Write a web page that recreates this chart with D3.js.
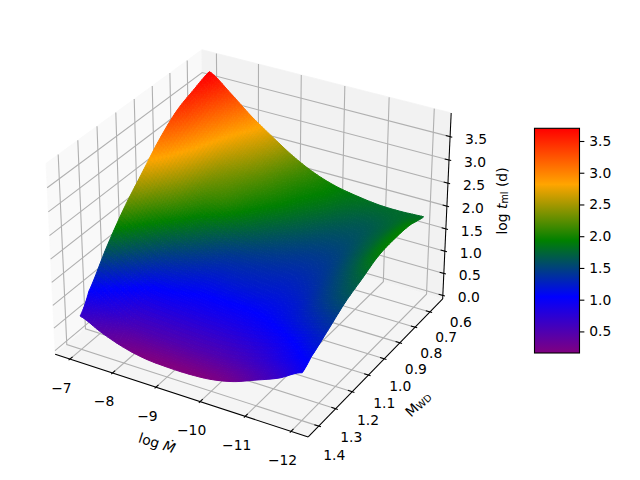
<!DOCTYPE html>
<html>
<head>
<meta charset="utf-8">
<script src="https://cdn.jsdelivr.net/npm/d3@7"></script>
<style>
  body { margin: 0; background: #fff; }
  text { font-family: "DejaVu Sans"; font-size: 13.89px; fill: #000; }
</style>
</head>
<body>
<div id="plot"></div>
<script>
const w = 640
const h = 480

// Values
const logMdot = [-7, -7.5, -8, -8.5, -9, -9.5, -10, -10.5, -11, -11.5, -12]
const mWd = [0.556, 0.65, 0.75, 0.85, 0.95, 1.05, 1.15, 1.25, 1.30]
// one row per mWd, one column per logMdot
const logTml = [
  [3.72, 3.37, 2.98, 2.65, 2.34, 2.10, 1.94, 1.85, 1.79, 1.78, 1.80],
  [3.58, 3.18, 2.78, 2.48, 2.20, 2.00, 1.87, 1.73, 1.66, 1.74, 1.91],
  [3.40, 2.95, 2.52, 2.26, 2.05, 1.87, 1.70, 1.58, 1.57, 1.72, 1.93],
  [3.07, 2.66, 2.26, 2.07, 1.83, 1.63, 1.50, 1.43, 1.47, 1.66, 1.89],
  [2.64, 2.29, 1.96, 1.68, 1.47, 1.38, 1.33, 1.30, 1.37, 1.55, 1.73],
  [2.20, 1.85, 1.52, 1.32, 1.20, 1.19, 1.18, 1.17, 1.24, 1.42, 1.57],
  [1.66, 1.35, 1.06, 0.98, 0.92, 0.91, 0.92, 0.98, 1.08, 1.20, 1.33],
  [1.03, 0.78, 0.54, 0.50, 0.48, 0.48, 0.50, 0.58, 0.72, 0.92, 1.10],
  [0.66, 0.44, 0.27, 0.17, 0.14, 0.14, 0.18, 0.29, 0.48, 0.68, 0.95]
]
const xTicks = [-7, -8, -9, -10, -11, -12]
const yTicks = [0.6, 0.7, 0.8, 0.9, 1.0, 1.1, 1.2, 1.3, 1.4]
const zTicks = [0, 0.5, 1, 1.5, 2, 2.5, 3, 3.5]
const cbTicks = [0.5, 1, 1.5, 2, 2.5, 3, 3.5]
const cbRange = [0.16, 3.7]
const cmapColors = ["#800080", "#0000ff", "#008000", "#ffa500", "#ff0000"]

const svg = d3.select("#plot").append("svg")
  .attr("width", w)
  .attr("height", h)

// --- 3d projection, same camera as a default mplot3d axes ---
const boxNorm = 1.8294640721620434 * 25 / 24 / Math.hypot(4, 4, 3)
const hx = 2 * boxNorm
const hy = 2 * boxNorm
const hz = 1.5 * boxNorm
const dist = 10
const az = -60 * Math.PI / 180
const el = 30 * Math.PI / 180

const camW = [Math.cos(el) * Math.cos(az), Math.cos(el) * Math.sin(az), Math.sin(el)]
const camU = [-camW[1] / Math.cos(el), camW[0] / Math.cos(el), 0]
const camV = [
  camW[1] * camU[2] - camW[2] * camU[1],
  camW[2] * camU[0] - camW[0] * camU[2],
  camW[0] * camU[1] - camW[1] * camU[0]
]
const dot = (a, b) => a[0] * b[0] + a[1] * b[1] + a[2] * b[2]

const xWorld = d3.scaleLinear().domain([-6.65, -12.37]).range([-hx, hx])
const yWorld = d3.scaleLinear().domain([0.5135, 1.361]).range([hy, -hy])
const zWorld = d3.scaleLinear().domain([-0.08, 4.0]).range([-hz, hz])

const screenScale = 2435
const cx = 252.5
const cy = 234
const xScreen = d3.scaleLinear().domain([-0.095, 0.09]).range([cx - 0.095 * screenScale, cx + 0.09 * screenScale])
const yScreen = d3.scaleLinear().domain([-0.095, 0.09]).range([cy + 0.095 * screenScale, cy - 0.09 * screenScale])

// box coordinates -> pixels
const project = p => {
  const d = dist - dot(p, camW)
  return [xScreen(dot(p, camU) / d), yScreen(dot(p, camV) / d)]
}
const line = d3.line()
const poly = pts => line(pts.map(project)) + "Z"

// --- Panes ---
const panes = [
  { fill: "#f9f9f9", pts: [[-hx, -hy, -hz], [-hx, hy, -hz], [-hx, hy, hz], [-hx, -hy, hz]] },
  { fill: "#f2f2f2", pts: [[-hx, hy, -hz], [hx, hy, -hz], [hx, hy, hz], [-hx, hy, hz]] },
  { fill: "#f5f5f5", pts: [[-hx, -hy, -hz], [hx, -hy, -hz], [hx, hy, -hz], [-hx, hy, -hz]] }
]
svg.append("g").selectAll("path").data(panes).join("path")
  .attr("d", d => poly(d.pts))
  .attr("fill", d => d.fill)
  .attr("stroke", d => d.fill)
  .attr("stroke-width", 0.8)

// --- Grid ---
const gridG = svg.append("g")
  .attr("fill", "none")
  .attr("stroke", "#b0b0b0")
  .attr("stroke-width", 1.1)
const drawGrid = pts => gridG.append("path").attr("d", line(pts.map(project)))

xTicks.forEach(t => {
  const x = xWorld(t)
  drawGrid([[x, -hy, -hz], [x, hy, -hz], [x, hy, hz]])
})
yTicks.filter(t => t <= yWorld.domain()[1]).forEach(t => {
  const y = yWorld(t)
  drawGrid([[hx, y, -hz], [-hx, y, -hz], [-hx, y, hz]])
})
zTicks.forEach(t => {
  const z = zWorld(t)
  drawGrid([[-hx, -hy, z], [-hx, hy, z], [hx, hy, z]])
})

// --- Axis lines and ticks ---
const axisG = svg.append("g")
  .attr("fill", "none")
  .attr("stroke", "#000")
  .attr("stroke-width", 1.05)
const drawAxis = pts => axisG.append("path").attr("d", line(pts.map(project)))

drawAxis([[-hx, -hy, -hz], [hx, -hy, -hz]])
drawAxis([[hx, -hy, -hz], [hx, hy, -hz]])
drawAxis([[hx, hy, -hz], [hx, hy, hz]])

const tickOut = 2 * hx / 12 * 0.1
const tickIn = 2 * hx / 12 * 0.2

const labelG = svg.append("g").attr("text-anchor", "middle").attr("dominant-baseline", "central")
const tickLabel = (pos, dx, dy, str) => labelG.append("text")
  .attr("x", pos[0] + dx)
  .attr("y", pos[1] + dy)
  .text(str)

xTicks.forEach(t => {
  const x = xWorld(t)
  drawAxis([[x, -hy - tickOut, -hz], [x, -hy + tickIn, -hz]])
  tickLabel(project([x, -hy, -hz]), -8.5, 28.5, "\u2212" + Math.abs(t))
})
yTicks.forEach(t => {
  const y = yWorld(t)
  // the last label sits past the end of the axis, no tick there
  if (t <= yWorld.domain()[1]) drawAxis([[hx + tickOut, y, -hz], [hx - tickIn, y, -hz]])
  tickLabel(project([hx + 0.145, y, -hz - 0.004]), 0, 0, t.toFixed(1))
})
zTicks.forEach(t => {
  const z = zWorld(t)
  drawAxis([[hx + tickOut, hy, z], [hx - tickIn, hy, z]])
  tickLabel(project([hx, hy, z]), 26, 2, t.toFixed(1))
})

// --- Axis titles ---
const title = (x, y, rot) => svg.append("text")
  .attr("transform", `translate(${x},${y}) rotate(${rot})`)
  .attr("text-anchor", "middle")
  .attr("dominant-baseline", "central")

const xTitle = title(157, 443, 18)
xTitle.append("tspan").text("log ")
xTitle.append("tspan").attr("font-style", "italic").text("\u1E40")

const yTitle = title(418, 404, -44)
yTitle.append("tspan").text("M")
yTitle.append("tspan").attr("font-size", "9.7px").attr("dy", 2).text("WD")

const zTitle = title(502, 201, -90)
zTitle.append("tspan").text("log ")
zTitle.append("tspan").attr("font-style", "italic").text("t")
zTitle.append("tspan").attr("font-size", "9.7px").attr("dy", 2).text("ml")
zTitle.append("tspan").attr("dy", -2).text(" (d)")

// --- Colour map ---
const cmapStops = cmapColors.map((c, i) => cbRange[0] + i / (cmapColors.length - 1) * (cbRange[1] - cbRange[0]))
const cmap = d3.scaleLinear().domain(cmapStops).range(cmapColors).clamp(true)

// --- Surface, back row first ---
// Catmull-Rom through the table values, only so the shading between them is smooth
const spline = (arr, i, t) => {
  const p0 = arr[Math.max(i - 1, 0)]
  const p1 = arr[i]
  const p2 = arr[i + 1]
  const p3 = arr[Math.min(i + 2, arr.length - 1)]
  return 0.5 * (2 * p1 + (p2 - p0) * t + (2 * p0 - 5 * p1 + 4 * p2 - p3) * t * t + (3 * p1 - p0 - 3 * p2 + p3) * t * t * t)
}
const surfaceAt = (u, v) => {
  const c = Math.min(Math.floor(u), logMdot.length - 2)
  const r = Math.min(Math.floor(v), mWd.length - 2)
  const column = logTml.map(row => spline(row, c, u - c))
  return [
    xWorld(d3.interpolateNumber(logMdot[c], logMdot[c + 1])(u - c)),
    yWorld(d3.interpolateNumber(mWd[r], mWd[r + 1])(v - r)),
    spline(column, r, v - r)
  ]
}

const split = 10
const quads = []
for (let j = 0; j < (mWd.length - 1) * split; j++) {
  for (let i = 0; i < (logMdot.length - 1) * split; i++) {
    const corners = [
      surfaceAt(i / split, j / split),
      surfaceAt((i + 1) / split, j / split),
      surfaceAt((i + 1) / split, (j + 1) / split),
      surfaceAt(i / split, (j + 1) / split)
    ]
    quads.push({
      value: surfaceAt((i + 0.5) / split, (j + 0.5) / split)[2],
      pts: corners.map(p => [p[0], p[1], zWorld(p[2])])
    })
  }
}

svg.append("g").selectAll("path").data(quads).join("path")
  .attr("d", d => poly(d.pts))
  .attr("fill", d => cmap(d.value))
  .attr("stroke", d => cmap(d.value))
  .attr("stroke-width", 1)
  .attr("stroke-linejoin", "round")

// --- Colorbar ---
const cbX = 534.5
const cbW = 45
const cbY = d3.scaleLinear().domain(cbRange).range([353, 128.3])

const grad = svg.append("defs").append("linearGradient")
  .attr("id", "cb-grad")
  .attr("x1", 0).attr("x2", 0).attr("y1", 1).attr("y2", 0)
grad.selectAll("stop").data(cmapColors).join("stop")
  .attr("offset", (d, i) => i / (cmapColors.length - 1))
  .attr("stop-color", d => d)

svg.append("rect")
  .attr("x", cbX)
  .attr("y", cbY(cbRange[1]))
  .attr("width", cbW)
  .attr("height", cbY(cbRange[0]) - cbY(cbRange[1]))
  .attr("fill", "url(#cb-grad)")
  .attr("stroke", "#000")
  .attr("stroke-width", 1.1)

const cbAxis = svg.append("g")
  .attr("transform", `translate(${cbX + cbW},0)`)
  .call(d3.axisRight(cbY).tickValues(cbTicks).tickFormat(d3.format(".1f")).tickSize(4.86).tickPadding(4.9))
cbAxis.select(".domain").remove()
cbAxis.selectAll("line").attr("stroke-width", 1.1)
cbAxis.selectAll("text").style("font-family", "DejaVu Sans").style("font-size", "13.89px")
</script>
</body>
</html>
